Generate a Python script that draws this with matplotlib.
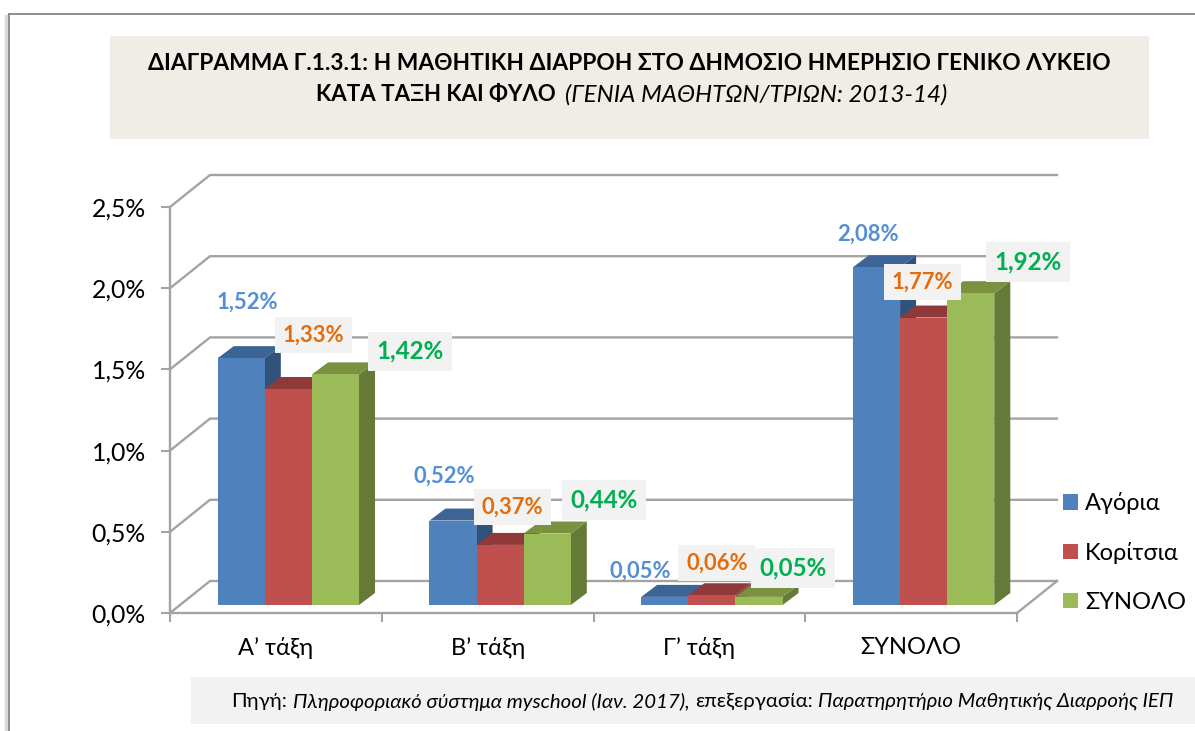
import matplotlib
matplotlib.use("Agg")
import matplotlib.pyplot as plt
from matplotlib.patches import Polygon, Patch, Rectangle
from matplotlib.lines import Line2D

W, H = 1195, 731
FONT = ['Lato', 'Noto Sans', 'DejaVu Sans']
plt.rcParams['font.family'] = FONT

# ---- data ----
categories = ["Α’ τάξη", "Β’ τάξη", "Γ’ τάξη", "ΣΥΝΟΛΟ"]
series_names = ["Αγόρια", "Κορίτσια", "ΣΥΝΟΛΟ"]
boys = [1.52, 0.52, 0.05, 2.08]
girls = [1.33, 0.37, 0.06, 1.77]
total = [1.42, 0.44, 0.05, 1.92]
y_ticks = [0.0, 0.5, 1.0, 1.5, 2.0, 2.5]

# ---- style / layout ----
front = ["#4F81BD", "#C0504D", "#9BBB59"]
top = ["#3C6494", "#8F3A38", "#7A9140"]
side = ["#31527A", "#8F3A38", "#667A38"]
label_col = ["#558ED5", "#E46C0A", "#00B050"]
label_size = [15.8, 15.8, 17.4]
grid_col = "#A3A3A3"
# label offset from the top-centre of its bar, in pixels (x right, y up)
label_off = [
    [(6, 56), (25, 54), (74.5, 23)],
    [(-9, 44), (12, 38), (57, 33.5)],
    [(-24, 26), (5, 32), (34, 29)],
    [(-9, 33), (-1, 35.6), (57, 31)],
]

fig = plt.figure(figsize=(W / 100, H / 100), dpi=100, facecolor="white")


def fx(p):
    return p / W


def fy(p):
    return 1 - p / H


# chart frame
for xs, ys, c, lw in [
    ([6.5, 6.5], [16, 731], "#D9D9D9", 2.5),
    ([9, 9], [13.5, 731], "#868686", 1.3),
    ([9, 1195], [13.5, 13.5], "#868686", 1.3),
]:
    fig.add_artist(Line2D([fx(x) for x in xs], [fy(y) for y in ys], color=c, lw=lw))

# title and source boxes
fig.add_artist(Rectangle((fx(110), fy(139)), 1039 / W, 103 / H, transform=fig.transFigure,
                         fc="#F0EDE6", ec="none"))
fig.add_artist(Rectangle((fx(191), fy(724)), 1004 / W, 47 / H, transform=fig.transFigure,
                         fc="#F2F2F2", ec="none"))

# plot area = front plane of the 3-D box
L, R, T, B = 170, 1017, 207, 613
ax = fig.add_axes([fx(L), fy(B), (R - L) / W, (B - T) / H])
ax.set_xlim(0, len(categories))
ax.set_ylim(0, y_ticks[-1])
ax.patch.set_alpha(0)
px_x = (R - L) / len(categories)
px_y = (B - T) / y_ticks[-1]

wall_dx, wall_dy = 40 / px_x, 32 / px_y      # depth of the box
shift_dx, shift_dy = 12.5 / px_x, 8 / px_y   # bars' front face inside the box
bar_dx, bar_dy = 16 / px_x, 12 / px_y        # depth of a bar
bar_w = 47.1 / px_x

# gridlines on the back wall and floor
for v in y_ticks:
    ax.plot([0, wall_dx, len(categories) + wall_dx], [v, v + wall_dy, v + wall_dy],
            color=grid_col, lw=1.7, clip_on=False, zorder=1, solid_joinstyle="miter")
ax.plot([len(categories), len(categories) + wall_dx], [0, wall_dy],
        color=grid_col, lw=1.7, clip_on=False, zorder=1)

for s in ("top", "right"):
    ax.spines[s].set_visible(False)
for s in ("left", "bottom"):
    ax.spines[s].set_color(grid_col)
    ax.spines[s].set_linewidth(1.7)
    ax.spines[s].set_zorder(1.5)

ax.set_yticks(y_ticks)
ax.set_yticklabels([f"{v:.1f}%".replace(".", ",") for v in y_ticks], fontsize=17.8)
ax.tick_params(axis="y", length=6.5, width=1.5, color=grid_col, pad=11)
ax.set_xticks(range(len(categories) + 1))
ax.set_xticklabels([])
ax.tick_params(axis="x", length=6.5, width=1.5, color=grid_col)
ax.set_xticks([i + 0.5 for i in range(len(categories))], minor=True)
ax.set_xticklabels(categories, minor=True, fontsize=17)
ax.tick_params(axis="x", which="minor", length=0, pad=17)

# bars
group_w = bar_w * 3
for s, values in enumerate([boys, girls, total]):
    for i, v in enumerate(values):
        x0 = i + 0.5 - group_w / 2 + s * bar_w + shift_dx
        x1 = x0 + bar_w
        y0 = shift_dy
        y1 = shift_dy + v
        z = 3 + s * 0.1
        ax.add_patch(Polygon([(x1, y0), (x1 + bar_dx, y0 + bar_dy), (x1 + bar_dx, y1 + bar_dy), (x1, y1)],
                             fc=side[s], ec="none", clip_on=False, zorder=z))
        ax.add_patch(Polygon([(x0, y1), (x0 + bar_dx, y1 + bar_dy), (x1 + bar_dx, y1 + bar_dy), (x1, y1)],
                             fc=top[s], ec="none", clip_on=False, zorder=z))
        ax.bar(x0, v, width=bar_w, bottom=y0, align="edge", color=front[s], zorder=z + 0.01, clip_on=False)
        dx, dy = label_off[i][s]
        txt = f"{v:.2f}%".replace(".", ",")
        bbox = None if s == 0 else dict(fc="#F2F2F2", ec="none", pad=5.5 if s == 1 else 6)
        ax.annotate(txt, xy=((x0 + x1) / 2, y1), xytext=(dx, dy), textcoords="offset pixels",
                    ha="center", va="center", color=label_col[s], fontsize=label_size[s],
                    fontweight="bold", bbox=bbox, zorder=6, annotation_clip=False)

# legend
handles = [Patch(fc=c, ec="none", label=n) for c, n in zip(front, series_names)]
fig.legend(handles=handles, loc="center left", bbox_to_anchor=(fx(1054), fy(552.5)), frameon=False,
           fontsize=17, labelspacing=1.17, handlelength=0.63, handleheight=0.63,
           handletextpad=0.28, borderpad=0.4, borderaxespad=0)

# mixed-style text lines
renderer = fig.canvas.get_renderer()


def mixed(parts, cx, cy, gap):
    """Draw text runs (text, weight, style, size) centred as one line at pixel (cx, cy)."""
    arts = [fig.text(0, fy(cy), t, fontsize=sz, fontweight=w, fontstyle=st, va="center", ha="left")
            for t, w, st, sz in parts]
    widths = [a.get_window_extent(renderer).width for a in arts]
    x = cx - (sum(widths) + gap * (len(arts) - 1)) / 2
    for a, wd in zip(arts, widths):
        a.set_x(fx(x))
        x += wd + gap


mixed([("ΔΙΑΓΡΑΜΜΑ Γ.1.3.1: Η ΜΑΘΗΤΙΚΗ ΔΙΑΡΡΟΗ ΣΤΟ ΔΗΜΟΣΙΟ ΗΜΕΡΗΣΙΟ ΓΕΝΙΚΟ ΛΥΚΕΙΟ", "bold", "normal", 16.4)],
      629.5, 64, 0)
mixed([("ΚΑΤΑ ΤΑΞΗ ΚΑΙ ΦΥΛΟ", "bold", "normal", 16.0),
       ("(ΓΕΝΙΑ ΜΑΘΗΤΩΝ/ΤΡΙΩΝ: 2013-14)", "normal", "italic", 17.4)], 631.5, 95, 9)
mixed([("Πηγή:", "normal", "normal", 14.7),
       ("Πληροφοριακό σύστημα myschool (Ιαν. 2017),", "normal", "italic", 14.7),
       ("επεξεργασία:", "normal", "normal", 14.7),
       ("Παρατηρητήριο Μαθητικής Διαρροής ΙΕΠ", "normal", "italic", 14.7)], 702.5, 701.5, 5.5)

fig.savefig("out.png", dpi=100)
